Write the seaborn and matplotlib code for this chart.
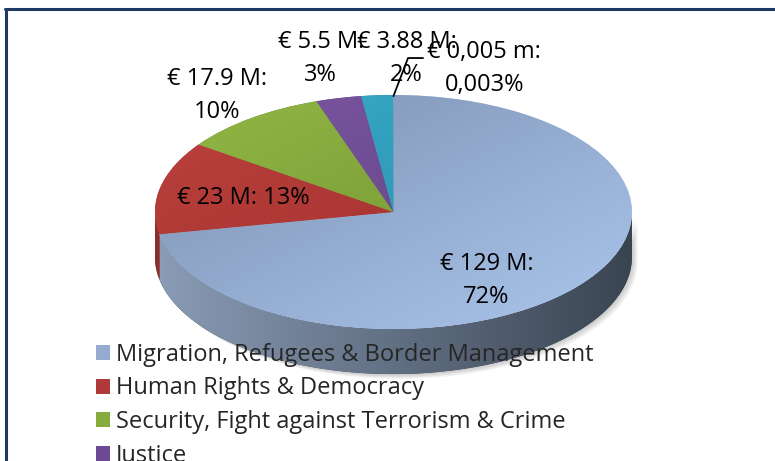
import numpy as np
import matplotlib
matplotlib.use("Agg")
import matplotlib.pyplot as plt
import seaborn as sns
from matplotlib.colors import LinearSegmentedColormap
from matplotlib.patches import Polygon, Patch
from matplotlib.lines import Line2D

# Datos (millones de euros)
values = [129, 23, 17.9, 5.5, 3.88, 0.005]
amount_labels = ["€ 129 M:", "€ 23 M:", "€ 17.9 M:", "€ 5.5 M:", "€ 3.88 M:", "€ 0,005 m:"]
pct_labels = ["72%", "13%", "10%", "3%", "2%", "0,003%"]
legend_labels = ["Migration, Refugees & Border Management", "Human Rights & Democracy",
                 "Security, Fight against Terrorism & Crime", "Justice"]

# Colores (cara superior: inicio -> fin del degradado; lateral: izq -> der)
top_colors = [("#7b90b1", "#abc6ec"), ("#bd423e", "#982b28"), ("#93b845", "#6c8c2f"),
              ("#7c58a3", "#5c3e7e"), ("#3aaccb", "#2687a6"), ("#f79646", "#e46c0a")]
side_colors = [("#8a9cb6", "#3a4451"), ("#8e2d2a", "#7a2320"), ("#6c8c2f", "#5a7527"),
               ("#5c3e7e", "#4c3268"), ("#2687a6", "#1f7089"), ("#e46c0a", "#c05a08")]
legend_colors = ["#95abcf", "#b0393a", "#86ac3e", "#6c4a94"]
frame_color = "#1f3864"
depth = 0.385

sns.set_theme(style="white")
plt.rcParams["font.family"] = ["Open Sans", "DejaVu Sans"]

fig = plt.figure(figsize=(7.75, 4.61), dpi=100)
fig.patch.set_facecolor("white")
fig.patch.set_edgecolor("none")
fig.patch.set_linewidth(0)
ax = fig.add_axes([0, 0, 1, 1])

wedges, _ = ax.pie(values, startangle=90, counterclock=False,
                   colors=[c[1] for c in top_colors],
                   wedgeprops=dict(linewidth=0, zorder=3))

# degradado diagonal para la cara superior
g = np.linspace(0, 1, 256)
X, Y = np.meshgrid(g, g)
diag = (X + (1 - Y)) / 2
for w, (c0, c1) in zip(wedges, top_colors):
    cmap = LinearSegmentedColormap.from_list("top", [c0, c1])
    im = ax.imshow(diag, cmap=cmap, extent=(-1, 1, -1, 1), origin="lower",
                   aspect="auto", interpolation="bilinear", zorder=4)
    im.set_clip_path(w)

# lateral (mitad frontal) a partir de los angulos de cada porcion
for w, (c0, c1) in zip(wedges, side_colors):
    for k in (-1, 0, 1):
        lo = max(w.theta1, -180 + 360 * k)
        hi = min(w.theta2, 360 * k)
        if hi <= lo:
            continue
        t = np.radians(np.linspace(lo, hi, 120))
        xs, ys = np.cos(t), np.sin(t)
        verts = np.vstack([np.column_stack([xs, ys]),
                           np.column_stack([xs[::-1], ys[::-1] - depth])])
        poly = Polygon(verts, closed=True, facecolor=c1, edgecolor="none", zorder=2)
        ax.add_patch(poly)
        cmap = LinearSegmentedColormap.from_list("side", [c0, c1])
        im = ax.imshow(X, cmap=cmap, extent=(-1, 1, -1 - depth, 1), origin="lower",
                       aspect="auto", interpolation="bilinear", zorder=2)
        im.set_clip_path(poly)
        # sombra suave
        for s in range(1, 5):
            sh = Polygon(verts + [0.006 * s, -0.01 * s], closed=True, facecolor="black",
                         edgecolor="none", alpha=0.05, zorder=1)
            ax.add_patch(sh)

# etiquetas
label_pos = [(0.39, -0.585), (-0.631, 0.12), (-0.74, 0.995), (-0.305, 1.313),
             (0.055, 1.313), (0.381, 1.224)]
for i, (x, y) in enumerate(label_pos):
    sep = " " if i == 1 else "\n"
    ax.text(x, y, amount_labels[i] + sep + pct_labels[i], ha="center", va="center",
            fontsize=17, color="black", linespacing=1.52, zorder=6)

# linea guia para la porcion minima
ax.plot([0, 0.061, 0.124], [0.991, 1.316, 1.316], color="black", lw=1.3, zorder=6)

handles = [Patch(facecolor=c, edgecolor="none") for c in legend_colors]
ax.legend(handles, legend_labels, loc="upper left", bbox_to_anchor=(96 / 775, 1 - 343 / 461),
          bbox_transform=fig.transFigure, frameon=False, fontsize=17,
          handlelength=0.6, handleheight=0.6, handletextpad=0.25, labelspacing=0.4,
          borderaxespad=0, borderpad=0)

ax.set_aspect("auto")
ax.set_xlim(-1.650, 1.600)
ax.set_ylim(-2.128, 1.812)
ax.set_frame_on(False)
ax.axis("off")

# marco
fig.add_artist(Line2D([5 / 775, 1], [1 - 9 / 461] * 2, transform=fig.transFigure,
                      color=frame_color, lw=2.2))
fig.add_artist(Line2D([5.5 / 775] * 2, [0, 1 - 9 / 461], transform=fig.transFigure,
                      color=frame_color, lw=2.2))

fig.savefig("out.png", dpi=100)
